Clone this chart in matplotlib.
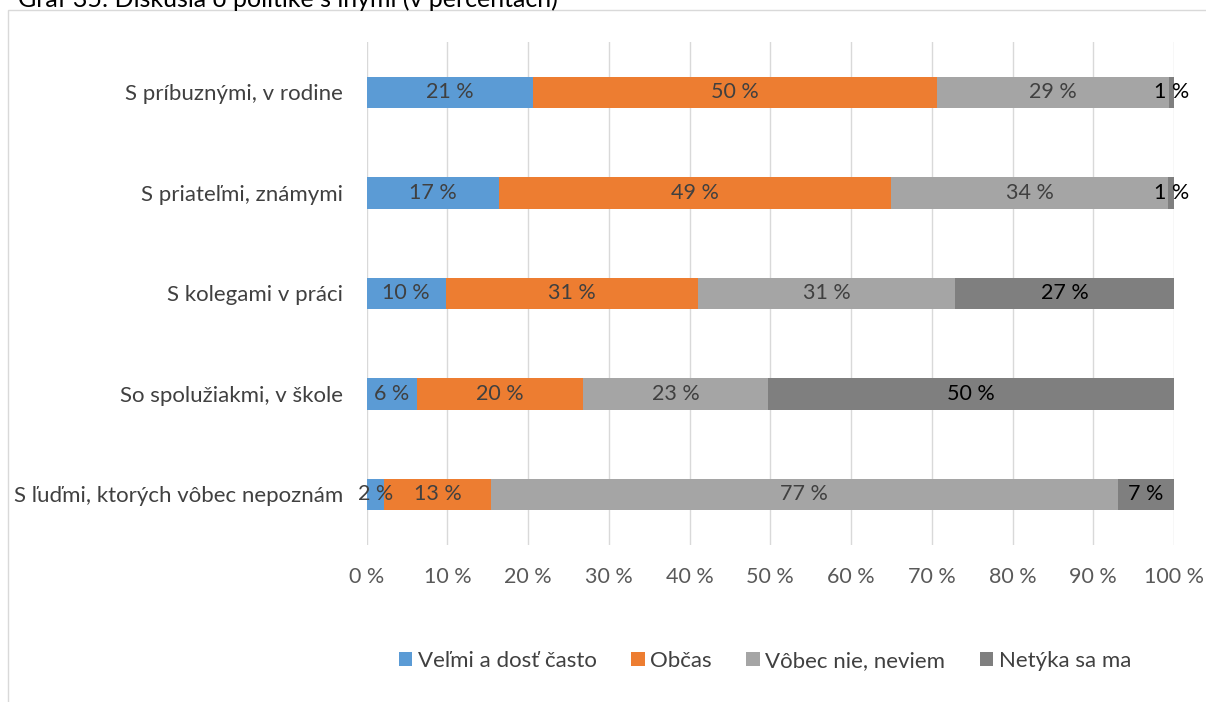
import matplotlib
matplotlib.use("Agg")
import matplotlib.pyplot as plt
from matplotlib.patches import Rectangle
import numpy as np

plt.rcParams['font.family'] = ['Lato', 'DejaVu Sans']

# Údaje
kategorie = [
    "S príbuznými, v rodine",
    "S priateľmi, známymi",
    "S kolegami v práci",
    "So spolužiakmi, v škole",
    "S ľuďmi, ktorých vôbec nepoznám",
]
velmi = [20.6, 16.4, 9.8, 6.2, 2.2]
obcas = [50.0, 48.5, 31.3, 20.6, 13.2]
vobec = [28.8, 34.4, 31.8, 22.9, 77.6]
netyka = [0.6, 0.7, 27.1, 50.3, 7.0]
popisy = [
    ["21 %", "17 %", "10 %", "6 %", "2 %"],
    ["50 %", "49 %", "31 %", "20 %", "13 %"],
    ["29 %", "34 %", "31 %", "23 %", "77 %"],
    ["1 %", "1 %", "27 %", "50 %", "7 %"],
]
serie = ["Veľmi a dosť často", "Občas", "Vôbec nie, neviem", "Netýka sa ma"]
farby = ["#5b9bd5", "#ed7d31", "#a5a5a5", "#7f7f7f"]
farby_textu = ["#404040", "#404040", "#404040", "#000000"]

fig = plt.figure(figsize=(12.06, 7.02), dpi=100)
ax = fig.add_axes([0.304, 0.224, 0.6695, 0.716])

# Rámček grafu
fig.patches.append(Rectangle((8 / 1206, -0.05), 1.1, 1 - 10 / 702 + 0.05,
                             transform=fig.transFigure, fill=False,
                             edgecolor="#d9d9d9", linewidth=1))
fig.text(18 / 1206, 1 - 7 / 702, "Graf 35: Diskusia o politike s inými (v percentách)",
         fontsize=18, color="#000000", va="baseline", ha="left")

y = np.arange(len(kategorie))
left = np.zeros(len(kategorie))
for hodnoty, nazov, farba, ftext, texty in zip([velmi, obcas, vobec, netyka], serie, farby, farby_textu, popisy):
    ax.barh(y, hodnoty, left=left, height=0.315, color=farba, label=nazov, zorder=3)
    for i, v in enumerate(hodnoty):
        ax.text(left[i] + v / 2, y[i], texty[i], ha="center", va="center",
                fontsize=15.5, color=ftext, zorder=4)
    left = left + np.array(hodnoty)

ax.set_xlim(0, 100)
ax.set_ylim(len(kategorie) - 0.5, -0.5)
ax.set_xticks(np.arange(0, 101, 10))
ax.set_xticklabels([f"{t} %" for t in range(0, 101, 10)], fontsize=15.5, color="#595959")
ax.set_yticks(y)
ax.set_yticklabels(kategorie, fontsize=16, color="#404040")
ax.tick_params(axis="both", length=0)
ax.tick_params(axis="x", pad=16)
ax.tick_params(axis="y", pad=17)
ax.grid(axis="x", color="#d9d9d9", linewidth=1, zorder=0)
for s in ax.spines.values():
    s.set_visible(False)

fig.legend(loc="center", bbox_to_anchor=(765 / 1206, 1 - 661 / 702), ncol=4,
           frameon=False, fontsize=16, handlelength=0.6, handleheight=0.6,
           handletextpad=0.25, columnspacing=1.55, labelcolor="#404040")

fig.savefig("out.png", dpi=100)
